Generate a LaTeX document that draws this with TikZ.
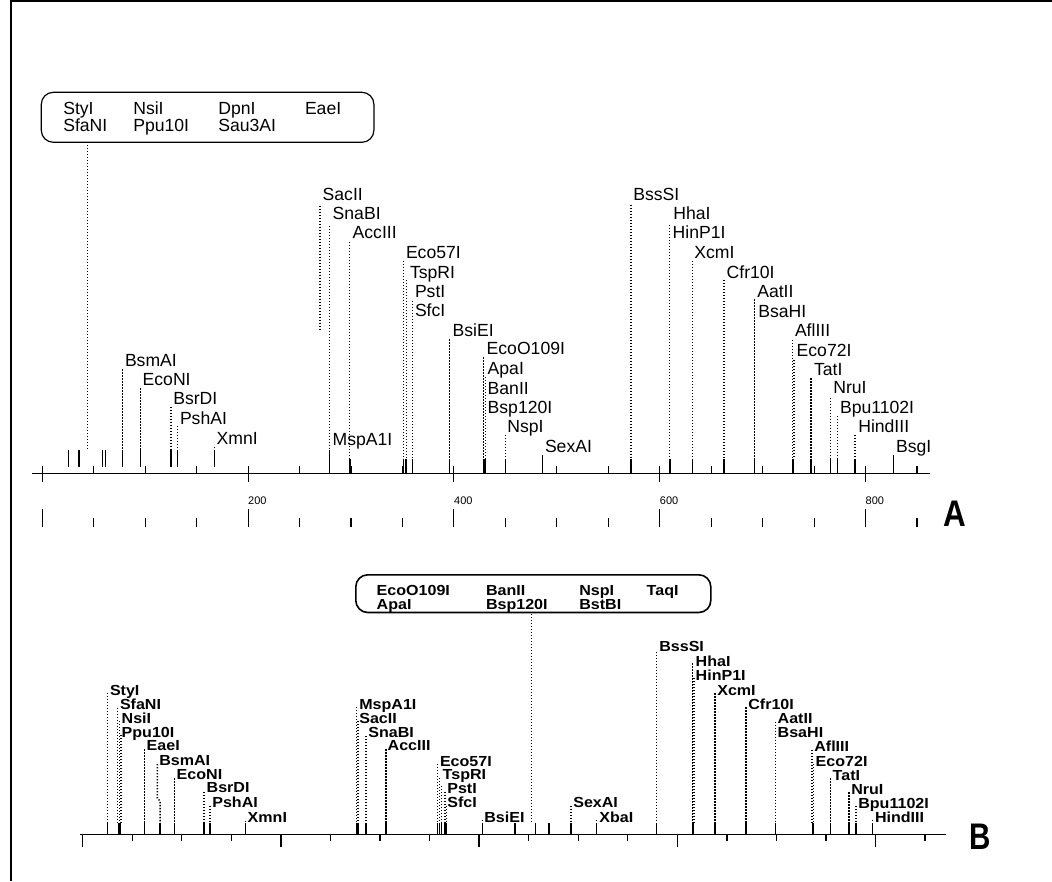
\documentclass[tikz,border=0pt]{standalone}
\usepackage{fontspec}
\usepackage{graphicx}
\setmainfont{Liberation Sans}
\newfontfamily\labBfamily{Liberation Sans}[FakeStretch=1.1]
\newcommand{\siteTick}[3]{\draw[sitetick] (#1,#2) -- (#1,#3);}
\newcommand{\siteThick}[3]{\draw[sitetick,line width=2.4pt] (#1,#2) -- (#1,#3);}
\newcommand{\siteDots}[3]{\draw[dotl] (#1,#2) -- (#1,#3);}
\newcommand{\lblA}[4]{\node[labA] (A-#1) at (#2,#3) {#4};}
\newcommand{\lblB}[4]{\node[labB] (B-#1) at (#2,#3) {#4};}
\tikzset{
  sitetick/.style={line width=1.3pt},
  dotl/.style={line width=1.5pt, dash pattern=on 1.3pt off 1.7pt},
  labA/.style={font=\fontsize{17.6}{17.6}\selectfont, anchor=base west, inner sep=0pt, outer sep=0pt},
  labB/.style={font={\labBfamily\bfseries\fontsize{14.6}{14.6}\selectfont}, anchor=base west, inner sep=0pt, outer sep=0pt},
  scalelab/.style={font=\fontsize{11}{11}\selectfont, anchor=base west, inner sep=0pt},
  axisline/.style={line width=1.4pt},
  boxA/.style={draw, line width=1.2pt, rounded corners=12pt},
  boxB/.style={draw, line width=1.6pt, rounded corners=12pt},
  panellab/.style={font=\fontsize{37}{37}\selectfont\bfseries, inner sep=0pt}
}
\begin{document}
\begin{tikzpicture}[x=1pt,y=-1pt]
\useasboundingbox (0,0) rectangle (1052,882);
% frame
\draw[line width=1.2pt] (11,881) -- (11,1) -- (1052,1);

% ================= PANEL A =================
\draw[axisline] (32,473.5) coordinate (axA0) -- (930,473.5) coordinate (axA1);
\foreach \k in {0,...,17}{
  \pgfmathsetmacro{\xx}{42.3+51.45*\k}
  \pgfmathtruncatemacro{\m}{mod(\k,4)}
  \ifnum\m=0
    \draw[line width=1.1pt] (\xx,466) -- (\xx,482);
    \draw[line width=1.1pt] (\xx,509) -- (\xx,527);
  \else
    \draw[line width=1.1pt] (\xx,466) -- (\xx,473.5);
    \draw[line width=1.1pt] (\xx,518) -- (\xx,527);
  \fi
}
\node[scalelab] (s200) at (248,504) {200};
\node[scalelab] (s400) at (454,504) {400};
\node[scalelab] (s600) at (659.7,504) {600};
\node[scalelab] (s800) at (865.5,504) {800};

% box A
\node[boxA, minimum width=332.6pt, minimum height=50pt, anchor=north west] (boxA) at (40.7,91.7) {};
\node[labA] (bA1) at (63.3,115) {StyI};
\node[labA] (bA2) at (63.3,131.7) {SfaNI};
\node[labA] (bA3) at (133.3,115) {NsiI};
\node[labA] (bA4) at (133.3,131.7) {Ppu10I};
\node[labA] (bA5) at (218.3,115) {DpnI};
\node[labA] (bA6) at (218.3,131.7) {Sau3AI};
\node[labA] (bA7) at (305,115) {EaeI};
\coordinate (boxAout) at (87.3,145);
\draw[dotl] (boxAout) -- (87.3,450);

% site ticks A
\foreach \x in {68.3,102.3,105.3,122.7,140.3,171,177.7,214.3}{\siteTick{\x}{450}{467}}
\siteThick{79}{450}{467}
\siteTick{329.3}{450}{473.5}
\foreach \x in {350,403.3,406,412.3,449.3,505.7,631,692.3,724,754.7,811,830.3,837.3,855}{\siteTick{\x}{459}{473.5}}
\siteThick{484.3}{459}{473.5}
\siteThick{670}{459}{473.5}
\siteThick{793}{459}{473.5}
\siteTick{542.7}{455}{473.5}
\siteTick{893.3}{455}{473.5}

% dotted leaders A
\siteDots{122.7}{369.3}{450}
\siteDots{140.3}{388.3}{450}
\siteDots{171}{406.7}{450}
\siteDots{177.7}{426}{450}
\siteDots{214.3}{446.7}{451}
\siteDots{320}{205.7}{331}
\siteDots{329.3}{225.7}{450}
\siteDots{349.3}{241.7}{459}
\siteDots{403.3}{260.7}{459}
\siteDots{406.6}{280}{459}
\siteDots{412.3}{301}{459}
\siteDots{449.3}{339.3}{459}
\siteDots{483.5}{357.3}{459}
\siteDots{485.3}{377}{459}
\siteDots{505.7}{435}{459}
\siteDots{631}{205}{459}
\siteDots{669.7}{225}{459}
\siteDots{692.3}{261}{459}
\siteDots{724}{280}{459}
\siteDots{754.7}{299.3}{459}
\siteDots{792.3}{340}{459}
\siteDots{794}{360}{459}
\siteDots{811}{378.3}{459}
\siteDots{830.3}{397.7}{459}
\siteDots{837.3}{416}{459}
\siteDots{855}{435}{459}

% labels A
\lblA{BsmAI}{125}{366.7}{BsmAI}
\lblA{EcoNI}{142.7}{386}{EcoNI}
\lblA{BsrDI}{173.3}{405}{BsrDI}
\lblA{PshAI}{180}{424.3}{PshAI}
\lblA{XmnI}{216.7}{444}{XmnI}
\lblA{SacII}{322.7}{200.7}{SacII}
\lblA{SnaBI}{332.7}{220}{SnaBI}
\lblA{AccIII}{352.7}{238.3}{AccIII}
\lblA{MspA1I}{332.7}{445.7}{MspA1I}
\lblA{Eco57I}{406}{259}{Eco57I}
\lblA{TspRI}{410}{279}{TspRI}
\lblA{PstI}{415}{297.3}{PstI}
\lblA{SfcI}{415}{316.7}{SfcI}
\lblA{BsiEI}{452.7}{336.7}{BsiEI}
\lblA{EcoO109I}{486.7}{355}{EcoO109I}
\lblA{ApaI}{487.7}{375}{ApaI}
\lblA{BanII}{487.7}{395}{BanII}
\lblA{Bsp120I}{487.7}{413.3}{Bsp120I}
\lblA{NspI}{507.3}{432.7}{NspI}
\lblA{SexAI}{545}{452.7}{SexAI}
\lblA{BssSI}{633.3}{200.7}{BssSI}
\lblA{HhaI}{673.3}{220}{HhaI}
\lblA{HinP1I}{672.7}{238.3}{HinP1I}
\lblA{XcmI}{694.3}{258.3}{XcmI}
\lblA{Cfr10I}{726.7}{278.3}{Cfr10I}
\lblA{AatII}{757.3}{297.3}{AatII}
\lblA{BsaHI}{758.3}{317.3}{BsaHI}
\lblA{AflIII}{795}{336.7}{AflIII}
\lblA{Eco72I}{796.7}{356.7}{Eco72I}
\lblA{TatI}{814}{376}{TatI}
\lblA{NruI}{833.3}{394}{NruI}
\lblA{Bpu1102I}{840}{413.3}{Bpu1102I}
\lblA{HindIII}{858.3}{432.7}{HindIII}
\lblA{BsgI}{896}{452.7}{BsgI}

\node[panellab] (labelA) at (954.7,513.7) {\scalebox{0.85}[1]{A}};

% ================= PANEL B =================
\draw[line width=1.6pt] (80,834.5) coordinate (axB0) -- (946,834.5) coordinate (axB1);
\foreach \k in {0,...,17}{
  \pgfmathsetmacro{\xx}{82.7+49.55*\k}
  \pgfmathtruncatemacro{\m}{mod(\k,4)}
  \ifnum\m=0
    \draw[line width=1.3pt] (\xx,834.5) -- (\xx,847);
  \else
    \draw[line width=1.3pt] (\xx,834.5) -- (\xx,841);
  \fi
}

% box B
\node[boxB, minimum width=355pt, minimum height=37.7pt, anchor=north west] (boxB) at (355,574) {};
\node[labB] (bB1) at (376.7,595) {EcoO109I};
\node[labB] (bB2) at (376.7,609.3) {ApaI};
\node[labB] (bB3) at (486,595) {BanII};
\node[labB] (bB4) at (486,609.3) {Bsp120I};
\node[labB] (bB5) at (579.3,595) {NspI};
\node[labB] (bB6) at (579.3,609.3) {BstBI};
\node[labB] (bB7) at (646.7,595) {TaqI};
\coordinate (boxBout) at (531.7,614);
\draw[dotl] (boxBout) -- (531.7,823.3);

% site ticks B
\foreach \x in {107.7,144.3,174.3,204,210,245.7,366,386,437.3,439.3,441.3,445,446.5,482.3,535.7,571,596.7,656.7,715,746,775.7,830.3,849,856,872.7}{\siteTick{\x}{823.3}{834.5}}
\siteThick{119.3}{823.3}{834.5}
\siteThick{160}{823.3}{834.5}
\siteThick{357.3}{823.3}{834.5}
\siteThick{515.2}{823.3}{834.5}
\siteThick{549.2}{823.3}{834.5}
\siteThick{693.2}{823.3}{834.5}
\siteThick{813}{823.3}{834.5}

% dotted leaders B
\siteDots{107.7}{692.7}{823.3}
\siteDots{117.7}{707.7}{823.3}
\siteDots{119.3}{721}{823.3}
\siteDots{121}{735}{823.3}
\siteDots{144.3}{749.3}{823.3}
\draw[dotl] (157.3,764) -- (157.3,798) -- (160,801) -- (160,823.3);
\siteDots{174.3}{778.3}{823.3}
\siteDots{204}{791.7}{823.3}
\siteDots{210}{805.7}{823.3}
\siteDots{245.7}{820.7}{823.3}
\siteDots{356.7}{706.7}{823.3}
\siteDots{358.2}{721}{823.3}
\siteDots{366}{736}{823.3}
\siteDots{386}{749.3}{823.3}
\siteDots{437.3}{764}{823.3}
\siteDots{439.3}{778}{823.3}
\siteDots{441.3}{786}{823.3}
\siteDots{445}{791.7}{823.3}
\siteDots{446.7}{806}{823.3}
\siteDots{482.3}{820}{823.3}
\siteDots{571}{805.7}{823.3}
\siteDots{596.7}{820}{823.3}
\siteDots{656.7}{651.7}{823.3}
\siteDots{692.7}{663.3}{823.3}
\siteDots{693.9}{678}{823.3}
\siteDots{715}{693.3}{823.3}
\siteDots{746}{707.3}{823.3}
\siteDots{775.7}{721.7}{823.3}
\siteDots{812}{750}{823.3}
\siteDots{813.7}{764}{823.3}
\siteDots{830.3}{778.3}{823.3}
\siteDots{849}{792.3}{823.3}
\siteDots{856}{806}{823.3}
\siteDots{872.7}{820}{823.3}

% labels B
\lblB{StyI}{110}{695}{StyI}
\lblB{SfaNI}{120}{709.3}{SfaNI}
\lblB{NsiI}{121.7}{723.3}{NsiI}
\lblB{Ppu10I}{121.7}{737.3}{Ppu10I}
\lblB{EaeI}{146.7}{750.7}{EaeI}
\lblB{BsmAI}{159.3}{765}{BsmAI}
\lblB{EcoNI}{176.7}{779.3}{EcoNI}
\lblB{BsrDI}{206.7}{792.7}{BsrDI}
\lblB{PshAI}{212.3}{807.3}{PshAI}
\lblB{XmnI}{247.7}{822.7}{XmnI}
\lblB{MspA1I}{359.3}{709.3}{MspA1I}
\lblB{SacII}{359.3}{723.3}{SacII}
\lblB{SnaBI}{368.3}{737.7}{SnaBI}
\lblB{AccIII}{387.7}{750.7}{AccIII}
\lblB{Eco57I}{440}{766}{Eco57I}
\lblB{TspRI}{442.7}{779.3}{TspRI}
\lblB{PstI}{447.3}{793.3}{PstI}
\lblB{SfcI}{447.3}{807.7}{SfcI}
\lblB{BsiEI}{484.3}{822.7}{BsiEI}
\lblB{SexAI}{573.3}{807.7}{SexAI}
\lblB{XbaI}{599.3}{822.7}{XbaI}
\lblB{BssSI}{659.3}{651.7}{BssSI}
\lblB{HhaI}{695.7}{666.7}{HhaI}
\lblB{HinP1I}{695.7}{680.7}{HinP1I}
\lblB{XcmI}{717.3}{695}{XcmI}
\lblB{Cfr10I}{748.3}{709.3}{Cfr10I}
\lblB{AatII}{777.7}{723.3}{AatII}
\lblB{BsaHI}{777.7}{737.3}{BsaHI}
\lblB{AflIII}{814.3}{751.7}{AflIII}
\lblB{Eco72I}{815.7}{766}{Eco72I}
\lblB{TatI}{832.7}{780}{TatI}
\lblB{NruI}{851.3}{794}{NruI}
\lblB{Bpu1102I}{858.3}{808.3}{Bpu1102I}
\lblB{HindIII}{875}{822.7}{HindIII}

\node[panellab] (labelB) at (980.3,836.7) {\scalebox{0.8}[1]{B}};
\end{tikzpicture}
\end{document}
